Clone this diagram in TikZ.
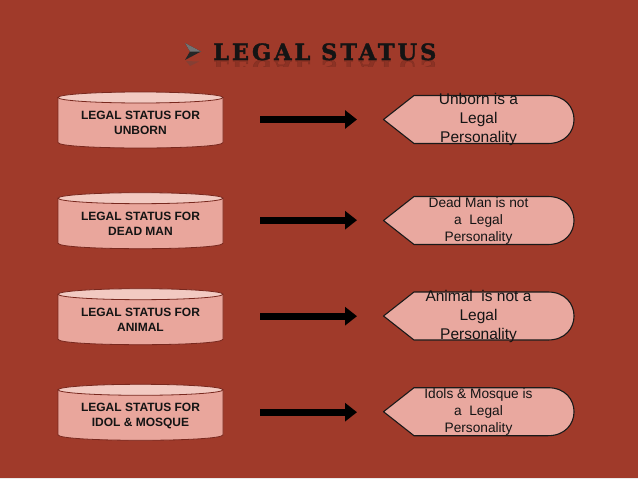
\documentclass[tikz,border=0pt]{standalone}
\usepackage{fontspec}
\setmainfont{Liberation Sans}
\newfontfamily\titlefont[LetterSpace=13, FakeBold=1.6]{DejaVu Serif Bold}
\usetikzlibrary{arrows.meta}
\definecolor{bg}{RGB}{160,58,42}
\definecolor{cylfill}{RGB}{233,166,156}
\definecolor{cyltopfill}{RGB}{242,202,194}
\definecolor{cylline}{RGB}{120,40,30}
\definecolor{callfill}{RGB}{233,168,159}
\definecolor{textdark}{RGB}{20,20,20}
\tikzset{
  cylbody/.style={fill=cylfill, draw=cylline, line width=0.8pt},
  cyltop/.style={fill=cyltopfill, draw=cylline, line width=0.8pt},
  cyltext/.style={align=center, text=textdark, inner sep=0pt, font=\bfseries\fontsize{12}{15}\selectfont},
  callshape/.style={fill=callfill, draw=black!90, line width=1.1pt, line join=round},
  calltext/.style={align=center, text=textdark, inner sep=0pt},
  bigarrow/.style={draw=black, line width=7pt, -{Triangle[length=12pt,width=18pt]}},
  titlestyle/.style={anchor=base west, inner sep=0pt, font=\titlefont\fontsize{22.5}{22.5}\selectfont},
}
\newcommand\legalcyl[4]{%
  \filldraw[cylbody] (58,#2) -- (58,#2+45) .. controls (58,#2+52.33) and (223,#2+52.33) .. (223,#2+45) -- (223,#2) -- cycle;
  \filldraw[cyltop] (140.5,#2) ellipse [x radius=82.5, y radius=5.5];
  \node[cyltext] (#1) at (140.5,#2+25.8) {#3\\#4};
}
\newcommand\legalcallout[5]{%
  \filldraw[callshape] (383.5,#2) -- (414,#2-24) -- (548,#2-24) .. controls (582.7,#2-24) and (582.7,#2+24) .. (548,#2+24) -- (414,#2+24) -- cycle;
  \node[calltext, font=\fontsize{#3}{#4}\selectfont] (#1) at (478.5,#2) {#5};
}
\begin{document}
\begin{tikzpicture}[x=1pt,y=-1pt]
\fill[bg] (0,0) rectangle (638,479);
\useasboundingbox (0,0) rectangle (638,479);
\fill[black!8] (0,477.5) rectangle (638,479);
% title bullet (3D arrowhead)
\fill[black!85] (185,43) -- (201,51.5) -- (185,60) -- (190,51.5) -- cycle;
\fill[black!55] (185,43) -- (201,51.5) -- (190,51.5) -- cycle;
\fill[black!70, opacity=0.3] (186,61) -- (199,61.5) -- (190,66) -- cycle;
% title
\node[titlestyle, text=textdark] (title) at (213,60) {LEGAL STATUS};
\begin{scope}
  \clip (180,60.8) rectangle (450,66);
  \begin{scope}[shift={(213,60)}, yscale=-1, transform shape]
    \node[titlestyle, text=black, opacity=0.12] (titlerefl) at (0,0) {LEGAL STATUS};
  \end{scope}
\end{scope}
% cylinders
\legalcyl{c1}{97.5}{LEGAL STATUS FOR}{UNBORN}
\legalcyl{c2}{198.2}{LEGAL STATUS FOR}{DEAD MAN}
\legalcyl{c3}{294.2}{LEGAL STATUS FOR}{ANIMAL}
\legalcyl{c4}{389.8}{LEGAL STATUS FOR}{IDOL \& MOSQUE}
% arrows
\coordinate (as1) at (260,119.5); \coordinate (ae1) at (357,119.5);
\coordinate (as2) at (260,220.2); \coordinate (ae2) at (357,220.2);
\coordinate (as3) at (260,316.2); \coordinate (ae3) at (357,316.2);
\coordinate (as4) at (260,412.2); \coordinate (ae4) at (357,412.2);
\draw[bigarrow] (as1) -- (ae1);
\draw[bigarrow] (as2) -- (ae2);
\draw[bigarrow] (as3) -- (ae3);
\draw[bigarrow] (as4) -- (ae4);
% callouts
\legalcallout{r1}{119.5}{15.5}{19}{Unborn is a\\Legal\\Personality}
\legalcallout{r2}{220.5}{13.7}{17}{Dead Man is not\\a\ \ Legal\\Personality}
\legalcallout{r3}{316}{15.5}{19}{Animal\ \ is not a\\Legal\\Personality}
\legalcallout{r4}{411.7}{13.7}{17}{Idols \& Mosque is\\a\ \ Legal\\Personality}
\end{tikzpicture}
\end{document}
